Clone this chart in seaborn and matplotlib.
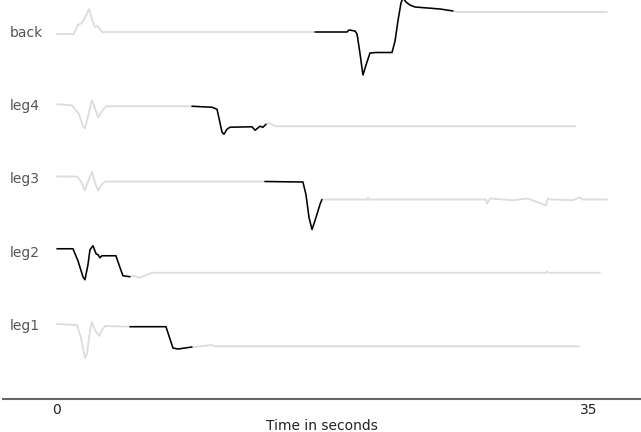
import numpy as np
import pandas as pd
import matplotlib
matplotlib.use("Agg")
import matplotlib.pyplot as plt
import seaborn as sns

# limb traces (time in s, amplitude in arbitrary units, up = positive)
limbs = ["leg1", "leg2", "leg3", "leg4", "back"]

t_leg1 = [0, 1.32, 1.58, 1.84, 1.97, 2.17, 2.30, 2.50, 2.76, 2.96, 3.16, 4.80, 7.17, 7.37,
          7.63, 7.96, 8.88, 9.21, 10.20, 10.33, 34.34]
v_leg1 = [2, 1, -12, -32, -28, -5, 4, -4, -10, -4, 0, -0.7, -0.7, -10,
          -22, -23, -21, -20.7, -19, -20.3, -20.3]

t_leg2 = [0, 1.05, 1.38, 1.71, 1.84, 2.04, 2.17, 2.37, 2.57, 2.70, 2.83, 2.96, 3.88, 4.08,
          4.34, 4.80, 5.00, 5.46, 6.25, 32.17, 32.24, 32.35, 35.72]
v_leg2 = [4, 4, -8, -24, -27, -12, 3, 7, -1, -2, -5, -3, -3, -12,
          -23, -24, -23, -25, -20, -20, -18.7, -20, -20]

t_leg3 = [0, 1.32, 1.58, 1.84, 2.04, 2.30, 2.50, 2.70, 2.96, 3.16, 13.68, 16.18, 16.38,
          16.58, 16.78, 17.04, 17.30, 17.43, 20.40, 20.46, 20.55, 28.22, 28.29, 28.49,
          30.00, 30.99, 32.17, 32.30, 32.43, 33.95, 34.41, 34.54, 36.18]
v_leg3 = [3, 3, -2, -11, -2, 8, -3, -11, -5, -2, -2, -2.5, -15,
          -38, -50, -38, -25, -20, -20, -18, -20, -20, -24, -19,
          -20.7, -19, -26, -19, -20, -20.7, -17.7, -20, -20]

t_leg4 = [0, 0.99, 1.45, 1.71, 1.84, 2.04, 2.30, 2.50, 2.70, 2.96, 3.22, 8.88, 10.20,
          10.53, 10.66, 10.86, 10.99, 11.18, 11.38, 12.83, 13.03, 13.36, 13.55, 13.75,
          14.01, 14.34, 34.08]
v_leg4 = [2, 1, -8, -20, -22, -10, 6, -2, -11, -5, 0, 0, -1,
          -3, -12, -26, -28, -23, -21, -20.5, -24, -20, -21, -18,
          -17, -20, -20]

t_back = [0, 1.10, 1.38, 1.64, 1.90, 2.11, 2.30, 2.50, 2.64, 2.76, 2.96, 10.0, 16.97,
          19.08, 19.21, 19.61, 19.74, 19.93, 20.13, 20.33, 20.59, 21.0, 22.04, 22.24,
          22.43, 22.63, 22.76, 22.96, 23.22, 23.55, 25.20, 26.05, 26.30, 36.18]
v_back = [-1, -1, 8, 10, 17, 24, 14, 6, 7, 5, 1, 1, 1,
          1, 3, 2, -1, -20, -42, -32, -20, -19.5, -19.5, -8,
          12, 30, 35, 31, 28, 26, 24, 22, 21, 21]

# highlighted (black) stretch of each trace, in seconds
active = {"leg1": (4.80, 8.88), "leg2": (0, 4.80), "leg3": (13.68, 17.43),
          "leg4": (8.88, 13.75), "back": (16.97, 26.05)}

traces = {"leg1": (t_leg1, v_leg1), "leg2": (t_leg2, v_leg2), "leg3": (t_leg3, v_leg3),
          "leg4": (t_leg4, v_leg4), "back": (t_back, v_back)}

row_gap = 73.25
gray = "#dcdcdc"

sns.set_style("white")
plt.rcParams["font.family"] = ["DejaVu Sans"]

fig = plt.figure(figsize=(6.41, 4.32), dpi=100)
ax = fig.add_axes([3 / 641, 33 / 432, 638 / 641, 399 / 432])

for i, name in enumerate(limbs):
    t, v = traces[name]
    df = pd.DataFrame({"t": t, "v": np.array(v) + i * row_gap})
    sns.lineplot(data=df, x="t", y="v", color=gray, lw=1.3, estimator=None,
                 sort=False, ax=ax)
    lo, hi = active[name]
    seg = df[(df["t"] >= lo) & (df["t"] <= hi)]
    sns.lineplot(data=seg, x="t", y="v", color="black", lw=1.1, estimator=None,
                 sort=False, ax=ax)
    ax.text(-3.1, i * row_gap, name, ha="left", va="center", fontsize=10,
            color="#555555")

ax.set_xlim(-3.55, 38.42)
ax.set_ylim(-73, 326)
ax.set_xticks([0, 35])
ax.set_yticks([])
ax.tick_params(axis="x", direction="in", length=4, width=1, color="#777777",
               labelsize=10, labelcolor="#222222", pad=3)
ax.set_xlabel("Time in seconds", fontsize=10, color="#222222", labelpad=1.5)
ax.set_ylabel("")
for s in ["top", "left", "right"]:
    ax.spines[s].set_visible(False)
ax.spines["bottom"].set_color("#666666")
ax.spines["bottom"].set_linewidth(1.5)

fig.savefig("out.png", dpi=100)
